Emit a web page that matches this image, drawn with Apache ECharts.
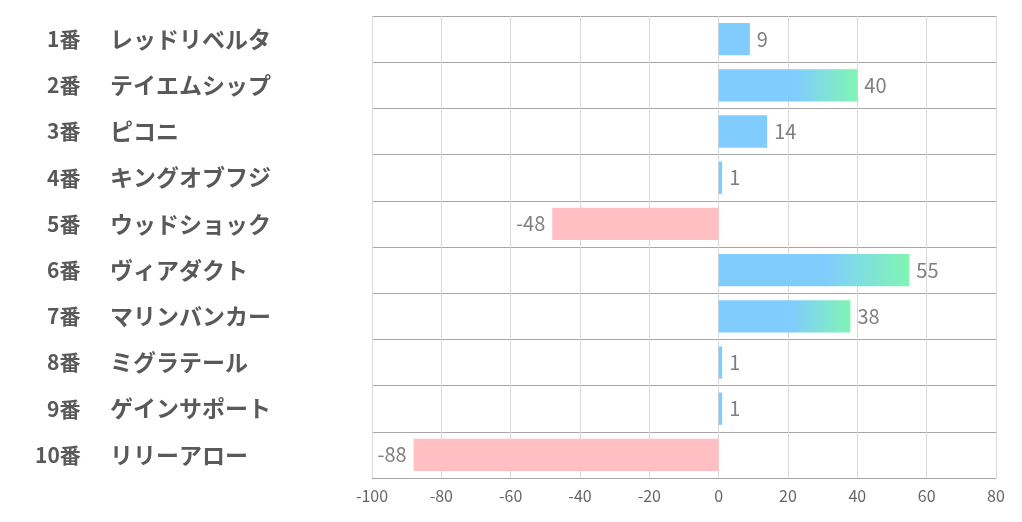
<!DOCTYPE html>
<html><head><meta charset="utf-8">
<script src="https://cdn.jsdelivr.net/npm/echarts@6/dist/echarts.min.js"></script>
<style>html,body{margin:0;padding:0;background:#fff}#c{width:1022px;height:522px}</style>
</head><body><div id="c"></div>
<script>
const numbers = ['1番','2番','3番','4番','5番','6番','7番','8番','9番','10番'];
const names = ['レッドリベルタ','テイエムシップ','ピコニ','キングオブフジ','ウッドショック','ヴィアダクト','マリンバンカー','ミグラテール','ゲインサポート','リリーアロー'];
const values = [9, 40, 14, 1, -48, 55, 38, 1, 1, -88];
const xTicks = [-100, -80, -60, -40, -20, 0, 20, 40, 60, 80];

const BLUE = '#80CCFF', GREEN = '#80F5B4', PINK = '#FFBFC3';
const font = '"Noto Sans CJK JP", "Noto Sans", sans-serif';

const data = values.map(v => {
  let color;
  if (v < 0) color = PINK;
  else if (v >= 30) color = new echarts.graphic.LinearGradient(0, 0, 1, 0, [
    {offset: 0, color: BLUE}, {offset: 0.55, color: BLUE}, {offset: 1, color: GREEN}]);
  else color = BLUE;
  return {
    value: v,
    itemStyle: {color},
    label: {position: v < 0 ? 'left' : 'right'}
  };
});

const numStyle = {fontSize: 21, fontWeight: 'bold', color: '#595959', fontFamily: font};
const chart = echarts.init(document.getElementById('c'));
chart.setOption({
  animation: false,
  textStyle: {fontFamily: font},
  grid: {left: 372, right: 26, top: 16, bottom: 44, containLabel: false},
  xAxis: {
    type: 'value', min: xTicks[0], max: xTicks[xTicks.length - 1], interval: 20,
    axisLine: {show: false}, axisTick: {show: false},
    axisLabel: {color: '#666666', fontSize: 16, margin: 10, fontFamily: font},
    splitLine: {show: true, lineStyle: {color: '#d9d9d9', width: 1}}
  },
  yAxis: {
    type: 'category', inverse: true,
    data: numbers.map((n, i) => n + '|' + names[i]),
    axisLine: {show: false}, axisTick: {show: false},
    splitLine: {show: true, lineStyle: {color: '#a6a6a6', width: 1}},
    axisLabel: {
      align: 'left', margin: 337,
      formatter: v => {
        const [a, b] = v.split('|');
        return (a.length > 2 ? '{a2|' + a + '}' : '{a1|' + a + '}') + '{b|' + b + '}';
      },
      rich: {
        a1: Object.assign({padding: [0, 0, 0, 12], width: 63}, numStyle),
        a2: Object.assign({width: 75}, numStyle),
        b: {fontSize: 23, fontWeight: 'bold', color: '#595959', fontFamily: font}
      }
    }
  },
  series: [{
    type: 'bar', data: data, barCategoryGap: '30%',
    label: {show: true, color: '#7f7f7f', fontSize: 20, distance: 7, fontFamily: font}
  }]
});
</script></body></html>
